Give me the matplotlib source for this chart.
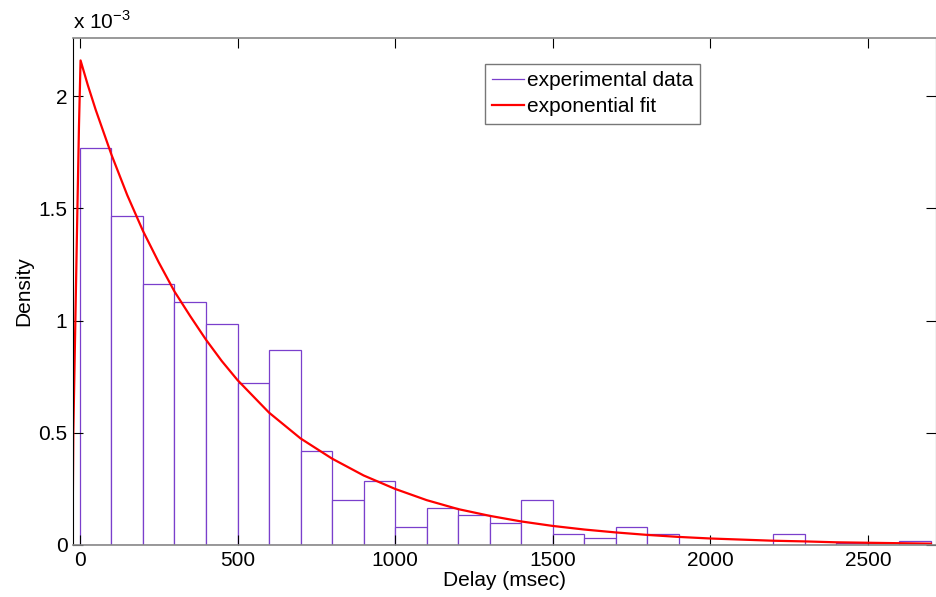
import matplotlib
matplotlib.use("Agg")
import matplotlib.pyplot as plt
from matplotlib.lines import Line2D
import numpy as np

plt.rcParams['font.family'] = ['Liberation Sans', 'DejaVu Sans']
plt.rcParams['mathtext.fontset'] = 'custom'
plt.rcParams['mathtext.rm'] = 'Liberation Sans'

# histogram: bin edges (msec) and density heights (x 1e-3)
bin_edges = np.arange(0, 2800, 100)
density = [1.77, 1.465, 1.165, 1.085, 0.985, 0.72, 0.87, 0.418, 0.20,
           0.285, 0.081, 0.165, 0.133, 0.098, 0.20, 0.049, 0.031, 0.080,
           0.048, 0.0, 0.0, 0.0, 0.048, 0.0, 0.008, 0.008, 0.016]

# exponential fit curve (x 1e-3)
fit_x = [-23, -21, -14, -8, -3, 2, 25, 50, 75, 100, 125, 150, 175, 200,
         250, 300, 350, 400, 450, 500, 600, 700, 800, 900, 1000, 1100,
         1200, 1300, 1400, 1500, 1600, 1700, 1800, 1900, 2000, 2100, 2200,
         2300, 2400, 2500, 2600, 2700]
fit_y = [0.10, 0.50, 1.04, 1.50, 1.87, 2.16, 2.05, 1.94, 1.84, 1.74, 1.65,
         1.56, 1.48, 1.40, 1.26, 1.13, 1.02, 0.915, 0.82, 0.735, 0.59, 0.475,
         0.385, 0.31, 0.25, 0.20, 0.16, 0.13, 0.105, 0.085, 0.069, 0.056,
         0.045, 0.036, 0.029, 0.024, 0.019, 0.016, 0.012, 0.010, 0.008,
         0.006]

purple = '#7a3fcc'
fs = 15

fig = plt.figure(figsize=(9.37, 5.97), dpi=100)
ax = fig.add_axes([73 / 937, 52 / 597, 863 / 937, 507 / 597])

ax.bar(bin_edges[:-1], np.array(density) * 1e-3, width=100, align='edge',
       facecolor='white', edgecolor=purple, linewidth=0.9)
ax.plot(fit_x, np.array(fit_y) * 1e-3, color='red', linewidth=1.6)

ax.set_xlim(-22, 2716)
ax.set_ylim(0, 2.26e-3)

ax.set_xticks([0, 500, 1000, 1500, 2000, 2500])
ax.set_xticklabels(['0', '500', '1000', '1500', '2000', '2500'])
ax.set_yticks([0, 0.5e-3, 1e-3, 1.5e-3, 2e-3])
ax.set_yticklabels(['0', '0.5', '1', '1.5', '2'])
ax.tick_params(direction='in', length=7, width=0.8, labelsize=fs,
               top=True, right=True, pad=4, colors='black')

for side in ['left', 'right']:
    ax.spines[side].set_color('black')
for side in ['top', 'bottom']:
    ax.spines[side].set_color('#888888')
    ax.spines[side].set_linewidth(1.2)

ax.text(0, 1.01, r'x 10$^{\mathrm{-3}}$', transform=ax.transAxes,
        fontsize=fs, ha='left', va='bottom')

ax.set_xlabel('Delay (msec)', fontsize=fs, labelpad=1)
ax.set_ylabel('Density', fontsize=fs, labelpad=4)

handles = [Line2D([], [], color=purple, linewidth=0.9),
           Line2D([], [], color='red', linewidth=1.6)]
ax.legend(handles, ['experimental data', 'exponential fit'],
          loc='upper left', bbox_to_anchor=(0.4775, 0.949), fontsize=fs,
          frameon=True, fancybox=False, edgecolor='#555555',
          handlelength=1.5, handletextpad=0.15, borderpad=0.35,
          labelspacing=0.35, borderaxespad=0)

fig.savefig('out.png', dpi=100)
